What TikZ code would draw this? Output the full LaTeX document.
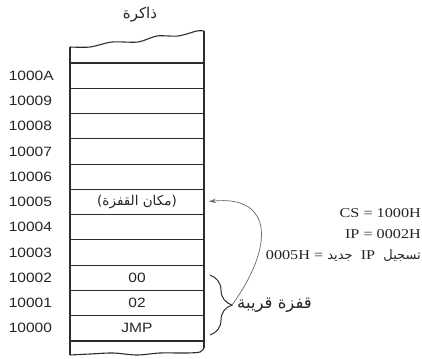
\documentclass[tikz,border=0pt]{standalone}
\usepackage{fontspec}
\setmainfont{Liberation Serif}[FakeStretch=1.2]
\newfontfamily\addrfont{Liberation Sans}[FakeStretch=1.15]
\newfontfamily\arabicfont[Script=Arabic]{DejaVu Sans}
\TeXXeTstate=1
\usepackage{tikz}
\usetikzlibrary{arrows.meta,positioning,calc,decorations.pathreplacing}
\definecolor{InkGray}{RGB}{45,45,45}
\definecolor{CurveGray}{RGB}{105,105,105}

\begin{document}
\begin{tikzpicture}[x=1pt,y=-1pt,
          node distance=0pt,
          mem/.style={draw=InkGray,line width=1.1pt},
          cell/.style={draw=InkGray,line width=1.1pt,minimum width=134pt,minimum height=25.27pt,
                       inner sep=0pt,outer sep=0pt,font=\addrfont\fontsize{13.5}{16}\selectfont,text=black!85},
          addr/.style={inner sep=0pt,text width=54pt,align=left,
                       font=\addrfont\fontsize{13.5}{16}\selectfont,text=black!85},
          reg/.style={inner sep=0pt,font=\fontsize{13.5}{15}\selectfont,text=black!85},
          arab/.style={inner sep=0pt,font=\arabicfont\fontsize{15}{17}\selectfont,text=black!85},
          brc/.style={draw=InkGray,line width=1pt,decorate,decoration={brace,amplitude=22pt}},
          ar/.style={-{Stealth[length=7pt,width=4.5pt]},line width=0.7pt,CurveGray}
        ]
          \useasboundingbox (0,0) rectangle (422,358);

          % memory column
          \node(ttl)[arab] at (140,15){ذاكرة};
          \draw[mem] plot[smooth] coordinates {(70,47) (90,47) (112,42) (138,42) (157,36) (178,36) (197,31) (204,31)};
          \draw[mem] plot[smooth] coordinates {(70,355) (90,354) (113,353) (137,355) (160,353) (187,353) (200,352) (204,348)};
          \draw[mem] (70,47) -- (70,355);
          \draw[mem] (204,31) -- (204,348);

          \node(c10)[cell] at (137,75.64){};
          \node(c9)[cell,below=of c10]{};
          \node(c8)[cell,below=of c9]{};
          \node(c7)[cell,below=of c8]{};
          \node(c6)[cell,below=of c7]{};
          \node(c5)[cell,below=of c6]{\arabicfont\fontsize{13.5}{15}\selectfont\beginR(مكان القفزة)\endR};
          \node(c4)[cell,below=of c5]{};
          \node(c3)[cell,below=of c4]{};
          \node(c2)[cell,below=of c3]{00};
          \node(c1)[cell,below=of c2]{02};
          \node(c0)[cell,below=of c1]{JMP};

          % addresses
          \node(a10)[addr,left=7pt of c10]{1000A};
          \node(a9)[addr,left=7pt of c9]{10009};
          \node(a8)[addr,left=7pt of c8]{10008};
          \node(a7)[addr,left=7pt of c7]{10007};
          \node(a6)[addr,left=7pt of c6]{10006};
          \node(a5)[addr,left=7pt of c5]{10005};
          \node(a4)[addr,left=7pt of c4]{10004};
          \node(a3)[addr,left=7pt of c3]{10003};
          \node(a2)[addr,left=7pt of c2]{10002};
          \node(a1)[addr,left=7pt of c1]{10001};
          \node(a0)[addr,left=7pt of c0]{10000};

          % near jump
          \coordinate(bt) at ($(c2.north east)+(6,10)$);
          \coordinate(bb) at ($(c0.south east)+(6,-6)$);
          \coordinate(bm) at ($(bt)!0.5!(bb)+(22,0)$);
          \draw[brc] (bt) -- (bb);
          \node(jl)[arab,right=5pt of bm,font=\arabicfont\fontsize{16.5}{18}\selectfont]{\beginR قفزة قريبة\endR};
          \draw[ar,shorten >=5pt] (bm) .. controls +(42,-58) and +(70,-7) .. (c5.east);

          % registers
          \node(cs)[reg,anchor=east] at (421,213){CS = 1000H};
          \node(ip)[reg,anchor=east] at (421,234){IP = 0002H};
          \node(nip)[reg,anchor=east] at (421,256){\arabicfont\fontsize{13}{15}\selectfont\beginR تسجيل {\rmfamily\fontsize{13.5}{15}\selectfont\ IP\ } جديد {\rmfamily\fontsize{13.5}{15}\selectfont = 0005H}\endR};
        \end{tikzpicture}
\end{document}
